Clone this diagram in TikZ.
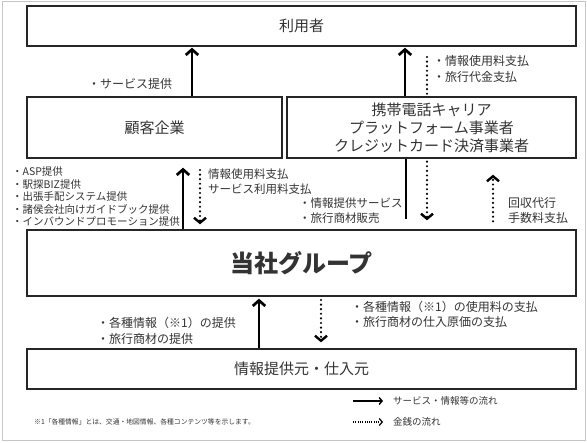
\documentclass[tikz,border=0pt]{standalone}
\usepackage{fontspec}
\setmainfont{Noto Sans CJK JP}
\usetikzlibrary{arrows.meta}
\definecolor{ink}{HTML}{262626}
\definecolor{txt}{HTML}{333333}
\begin{document}
\begin{tikzpicture}[x=1pt,y=-1pt,
  box/.style={draw=ink, line width=1.4pt, inner sep=0pt, text=txt, font=\fontsize{15}{19}\selectfont, align=center},
  lab/.style={inner sep=0pt, anchor=west, align=left, text=txt, font=\fontsize{11.5}{15}\selectfont},
  big/.style={font=\fontsize{12}{15.5}\selectfont},
  sarr/.style={draw=black, line width=2.7pt, -{Straight Barb[length=5.5pt,width=12.5pt]}},
  sline/.style={draw=black, line width=2.7pt},
  darr/.style={draw=black, line width=2.4pt, line cap=round, dash pattern=on 0pt off 4.6pt, -{Straight Barb[length=5pt,width=12pt,line cap=butt]}},
  dline/.style={draw=black, line width=2.4pt, line cap=round, dash pattern=on 0pt off 4.6pt},
  lsarr/.style={draw=black, line width=1.4pt, -{Straight Barb[length=3pt,width=7pt]}},
  ldarr/.style={draw=black, line width=1.2pt, dash pattern=on 1pt off 1.3pt, -{Straight Barb[length=3pt,width=7pt]}}
]
\useasboundingbox (0,0) rectangle (587,443);
\draw[gray!45, line width=1pt] (2,2) rectangle (585,441);

% boxes
\node[box, minimum width=549pt, minimum height=40pt] (user) at (301.5,26) {利用者};
\node[box, minimum width=255pt, minimum height=61pt] (client) at (154.5,127.5) {顧客企業};
\node[box, minimum width=289pt, minimum height=61pt, font=\fontsize{15}{18}\selectfont] (carrier) at (431.5,127.5) {携帯電話キャリア\\プラットフォーム事業者\\クレジットカード決済事業者};
\node[box, minimum width=549pt, minimum height=66pt, font=\fontsize{24}{28}\selectfont\bfseries] (group) at (301.5,263) {当社グループ};
\node[box, minimum width=549pt, minimum height=40pt] (supplier) at (301.5,369) {情報提供元・仕入元};

% x positions
\coordinate (xa) at (192,0);
\coordinate (xb) at (405,0);
\coordinate (xc) at (427,57);
\coordinate (xd) at (183,0);
\coordinate (xe) at (200,170);
\coordinate (xf) at (406,0);
\coordinate (xg) at (427,0);
\coordinate (xh) at (493,0);
\coordinate (xi) at (259,0);
\coordinate (xj) at (321,300);

% top connectors
\draw[sarr, shorten >=1pt] (client.north -| xa) -- (user.south -| xa);
\draw[sarr, shorten >=1pt] (carrier.north -| xb) -- (user.south -| xb);
\draw[dline] (xc) -- (carrier.north -| xc);

% middle connectors
\draw[sarr, shorten >=9pt] (group.north -| xd) -- (client.south -| xd);
\draw[darr, shorten >=5pt] (xe) -- (group.north -| xe);
\draw[sline, shorten >=10pt] (carrier.south -| xf) -- (group.north -| xf);
\draw[darr, shorten >=9pt, shorten <=3pt] (carrier.south -| xg) -- (group.north -| xg);
\draw[darr, shorten >=16pt, shorten <=8pt] (group.north -| xh) -- (carrier.south -| xh);

% bottom connectors
\draw[sarr, shorten >=2pt] (supplier.north -| xi) -- (group.south -| xi);
\draw[darr, shorten >=6pt] (xj) -- (supplier.north -| xj);

% labels
\node[lab, big] (t1) at (88,84) {・サービス提供};
\node[lab, big] (t2) at (433,69) {・情報使用料支払\\・旅行代金支払};
\node[lab, font=\fontsize{10.5}{12.5}\selectfont] (t3) at (12,197) {・ASP提供\\・駅探BIZ提供\\・出張手配システム提供\\・諸侯会社向けガイドブック提供\\・インバウンドプロモーション提供};
\node[lab] (t4) at (208,182) {情報使用料支払\\サービス利用料支払};
\node[lab] (t5) at (299,210.5) {・情報提供サービス\\・旅行商材販売};
\node[lab, big] (t6) at (508,210.5) {回収代行\\手数料支払};
\node[lab, big] (t7) at (97,331) {・各種情報（※1）の提供\\・旅行商材の提供};
\node[lab, big] (t8) at (351,314.5) {・各種情報（※1）の使用料の支払\\・旅行商材の仕入原価の支払};

% legend
\coordinate (l1s) at (353,401);
\coordinate (l1e) at (383,401);
\coordinate (l2s) at (353,422);
\coordinate (l2e) at (383,422);
\draw[lsarr] (l1s) -- (l1e);
\draw[ldarr] (l2s) -- (l2e);
\node[lab, font=\fontsize{9.5}{12}\selectfont] (lg1) at (393,401) {サービス・情報等の流れ};
\node[lab, font=\fontsize{9.5}{12}\selectfont] (lg2) at (393,422) {金銭の流れ};
\node[lab, font=\fontsize{6.8}{8}\selectfont] (fn) at (34,422) {※1「各種情報」とは、交通・地図情報、各種コンテンツ等を示します。};
\end{tikzpicture}
\end{document}
